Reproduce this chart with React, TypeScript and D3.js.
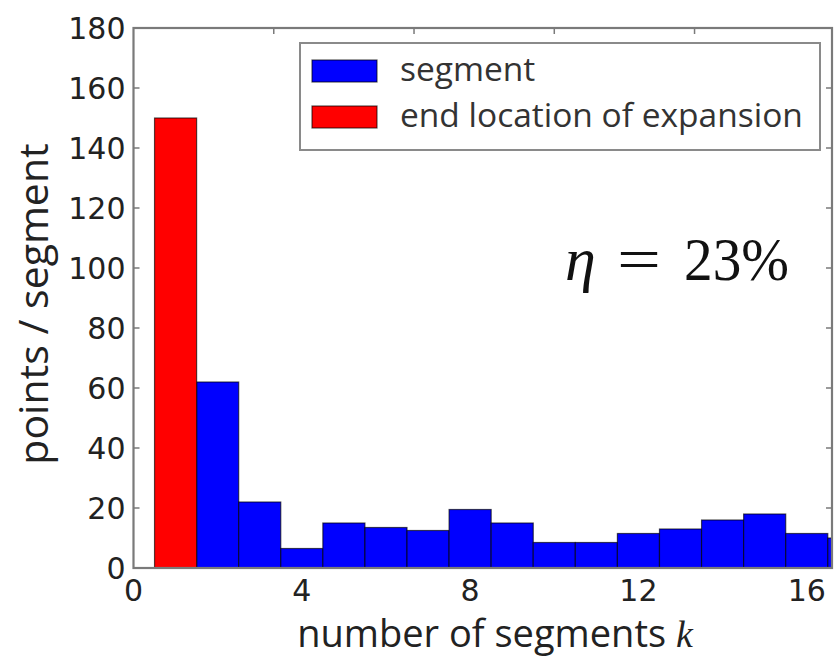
import React from "react";
import * as d3 from "d3";

// Histogram: points per segment, by number of segments k
const segmentK = [2, 3, 4, 5, 6, 7, 8, 9, 10, 11, 12, 13, 14, 15, 16, 17];
const segmentCounts = [62, 22, 6.5, 15, 13.5, 12.5, 19.5, 15, 8.5, 8.5, 11.5, 13, 16, 18, 11.5, 10];
const endK = [1];
const endCounts = [150];

const xTicks = [0, 4, 8, 12, 16];
const yTicks = [0, 20, 40, 60, 80, 100, 120, 140, 160, 180];
const topTicks = [10 / 3, 20 / 3, 10, 40 / 3];

const legendItems = [
  { label: "segment", color: "#0000ff" },
  { label: "end location of expansion", color: "#ff0000" },
];

const W = 838;
const H = 658;
const plot = { left: 133.5, right: 832, top: 28, bottom: 568 };

export default function App() {
  const x = d3.scaleLinear().domain([0, 16.6]).range([plot.left, plot.right]);
  const y = d3.scaleLinear().domain([0, 180]).range([plot.bottom, plot.top]);

  const spine = "#7a7a7a";
  const tickLen = 6;
  const sans = "'Open Sans', sans-serif";
  const tickFont = "'DejaVu Sans', sans-serif";
  const serif = "'Liberation Serif', 'DejaVu Serif', serif";

  const bar = (k: number, v: number, color: string, key: string) => (
    <rect
      key={key}
      x={x(k - 0.5)}
      y={y(v)}
      width={x(k + 0.5) - x(k - 0.5)}
      height={y(0) - y(v)}
      fill={color}
      stroke="#000"
      strokeOpacity={0.65}
      strokeWidth={1.2}
    />
  );

  return (
    <svg
      width={W}
      height={H}
      style={{ position: "absolute", left: 0, top: 0, background: "#fff" }}
    >
      <defs>
        <clipPath id="plotArea">
          <rect x={plot.left} y={plot.top} width={plot.right - plot.left} height={plot.bottom - plot.top} />
        </clipPath>
      </defs>

      <g clipPath="url(#plotArea)">
        {segmentK.map((k, i) => bar(k, segmentCounts[i], "#0000ff", `s${k}`))}
        {endK.map((k, i) => bar(k, endCounts[i], "#ff0000", `e${k}`))}
      </g>

      {/* ticks, pointing inward on all four sides */}
      <g stroke={spine} strokeWidth={1.5}>
        {yTicks.map((t) => (
          <g key={`yt${t}`}>
            <line x1={plot.left} x2={plot.left + tickLen} y1={y(t)} y2={y(t)} />
            <line x1={plot.right} x2={plot.right - tickLen} y1={y(t)} y2={y(t)} />
          </g>
        ))}
        {topTicks.map((t) => (
          <line key={`tt${t}`} x1={x(t)} x2={x(t)} y1={plot.top} y2={plot.top + tickLen} />
        ))}
      </g>

      {/* frame */}
      <rect
        x={plot.left}
        y={plot.top}
        width={plot.right - plot.left}
        height={plot.bottom - plot.top}
        fill="none"
        stroke={spine}
        strokeWidth={2.2}
      />

      {/* tick labels */}
      <g fontFamily={tickFont} fontSize={30} fill="#222">
        {yTicks.map((t) => (
          <text key={`yl${t}`} x={plot.left - 8} y={y(t)} textAnchor="end" dominantBaseline="central">
            {t}
          </text>
        ))}
        {xTicks.map((t) => (
          <text key={`xl${t}`} x={x(t)} y={plot.bottom + 33} textAnchor="middle">
            {t}
          </text>
        ))}
      </g>

      {/* axis labels */}
      <text x={495} y={647} textAnchor="middle" fontFamily={sans} fontSize={38} fill="#222">
        number of segments{" "}
        <tspan fontFamily={serif} fontStyle="italic">
          k
        </tspan>
      </text>
      <text
        transform={`translate(48, ${(plot.top + plot.bottom) / 2 + 6}) rotate(-90)`}
        textAnchor="middle"
        fontFamily={sans}
        fontSize={41}
        fill="#222"
      >
        points / segment
      </text>

      {/* legend */}
      <rect x={300} y={43} width={520} height={107} fill="#fff" stroke="#8a8a8a" strokeWidth={2} />
      {legendItems.map((d, i) => (
        <g key={d.label}>
          <rect
            x={312}
            y={60 + i * 46}
            width={65}
            height={22}
            fill={d.color}
            stroke="#000"
            strokeOpacity={0.65}
            strokeWidth={1.2}
          />
          <text x={400} y={81 + i * 46} fontFamily={sans} fontSize={33.5} fill="#333">
            {d.label}
          </text>
        </g>
      ))}

      {/* efficiency annotation */}
      <g fontFamily={serif} fontSize={62} fill="#111">
        <text x={565} y={280} fontStyle="italic">
          η
        </text>
        <text x={617} y={280} textLength={44} lengthAdjust="spacingAndGlyphs">
          =
        </text>
        <text x={684} y={280} textLength={105} lengthAdjust="spacingAndGlyphs">
          23%
        </text>
      </g>
    </svg>
  );
}
